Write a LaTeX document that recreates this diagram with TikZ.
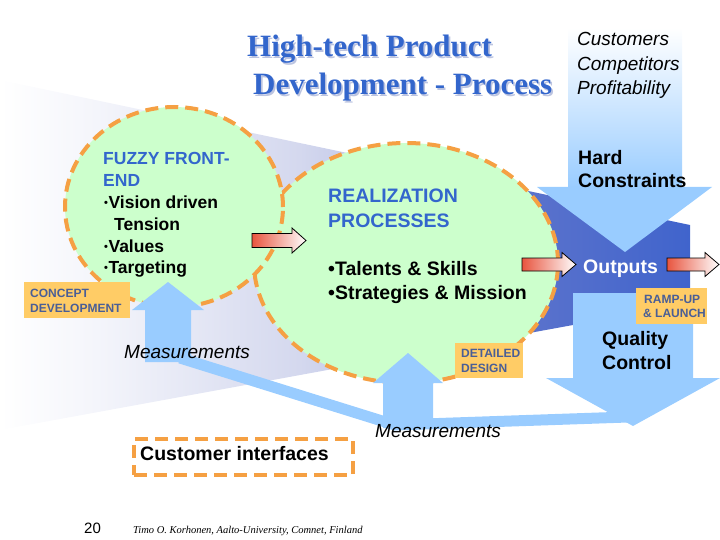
\documentclass[tikz,border=0pt]{standalone}
\usepackage{fontspec}
\setmainfont{Liberation Sans}
\newfontfamily\titlef{Liberation Serif}
\usetikzlibrary{shapes.geometric}
\definecolor{ltblue}{HTML}{99CCFF}
\definecolor{cgreen}{HTML}{CCFFCC}
\definecolor{orng}{HTML}{F5A043}
\definecolor{lblfill}{HTML}{FFCC66}
\definecolor{lbltxt}{HTML}{4A5E96}
\definecolor{tblue}{HTML}{3366CC}
\definecolor{tshadow}{HTML}{BCC4E0}
\definecolor{redA}{HTML}{E8553F}
\definecolor{fA}{HTML}{F4F5FB}
\definecolor{fB}{HTML}{D4D8EE}
\definecolor{fC}{HTML}{A6B0E0}
\definecolor{fD}{HTML}{5A72CC}
\definecolor{fE}{HTML}{4064CC}
\pgfdeclarehorizontalshading{funnelshade}{100bp}{color(0bp)=(white); color(25bp)=(white); color(32bp)=(fA); color(46.7bp)=(fB); color(59bp)=(fC); color(63.4bp)=(fD); color(75bp)=(fE); color(100bp)=(fE)}
\newcommand\sbul{\raisebox{1.5pt}{\fontsize{11}{11}\selectfont •}\hspace{0.5pt}}
\newcommand\shadowed[1]{\rlap{\hspace{1.6pt}\raisebox{-1.6pt}{\textcolor{tshadow}{#1}}}\textcolor{tblue}{#1}}
\begin{document}
\begin{tikzpicture}[x=1pt,y=-1pt,
  txt/.style={inner sep=0pt, anchor=base west},
  circ/.style={ellipse, inner sep=0pt, fill=cgreen, draw=orng, line width=4pt, dash pattern=on 13pt off 7pt},
  lblbox/.style={fill=lblfill, inner sep=0pt, anchor=north west},
  lbl/.style={txt, text=lbltxt, font=\fontsize{12}{14}\selectfont\bfseries},
  big/.style={txt, font=\fontsize{19.5}{23}\selectfont\bfseries},
  mid/.style={txt, font=\fontsize{17.5}{21}\selectfont\bfseries},
  ital/.style={txt, font=\fontsize{19}{23}\selectfont\itshape},
  redarr/.style={left color=redA, right color=white, draw=black, line width=0.8pt, line join=miter},
  ttl/.style={txt, font=\fontsize{31}{36}\selectfont\titlef\bfseries}
]
\useasboundingbox (0,0) rectangle (720,540);
% background funnel
\path[shading=funnelshade] (0,80) -- (690,225) -- (690,300) -- (573,325) -- (0,430) -- cycle;
% top arrow (constraints)
\path[top color=white, bottom color=ltblue] (568,28) rectangle (682,188);
\fill[ltblue] (537,187) -- (712,187) -- (625,252) -- cycle;
% quality control arrow
\fill[ltblue] (573,293) -- (693,293) -- (693,378) -- (720,378) -- (633,426) -- (546,378) -- (573,378) -- cycle;
% measurement band
\draw[ltblue, line width=11pt, line join=miter] (180,358) -- (395,425) -- (628,417);
% circles
\node[circ, minimum width=304pt, minimum height=240pt] (real) at (406,263) {};
\node[circ, minimum width=218pt, minimum height=200pt] (fuzzy) at (174,207) {};
% measurement arrows
\fill[ltblue] (145,362) -- (145,310) -- (132,310) -- (168,282) -- (204,310) -- (191,310) -- (191,362) -- cycle;
\fill[ltblue] (383,428) -- (383,383) -- (373,383) -- (408,353) -- (443,383) -- (433,383) -- (433,428) -- cycle;
% red arrows
\path[redarr] (252,233.5) -- (292,233.5) -- (292,228) -- (306,240.5) -- (292,253) -- (292,247.5) -- (252,247.5) -- cycle;
\path[redarr] (522,258) -- (562,258) -- (562,252.5) -- (576,264.5) -- (562,276.5) -- (562,271) -- (522,271) -- cycle;
\path[redarr] (667,258) -- (705,258) -- (705,252.5) -- (719,264.5) -- (705,276.5) -- (705,271) -- (667,271) -- cycle;
% label boxes
\node[lblbox, minimum width=106pt, minimum height=36pt] (conbox) at (24,282) {};
\node[lblbox, minimum width=71pt, minimum height=36pt] (rampbox) at (636,288) {};
\node[lblbox, minimum width=68pt, minimum height=35pt] (detbox) at (455,343) {};
\node[lbl] (con1) at (30,297) {CONCEPT};
\node[lbl] (con2) at (30,312) {DEVELOPMENT};
\node[lbl] (ramp1) at (644,303) {RAMP-UP};
\node[lbl] (ramp2) at (643,317) {\& LAUNCH};
\node[lbl] (det1) at (461,357) {DETAILED};
\node[lbl] (det2) at (461,372) {DESIGN};
% customer interfaces
\node[draw=orng, line width=4pt, dash pattern=on 13pt off 7pt, inner sep=0pt, minimum width=219pt, minimum height=36pt, anchor=north west] (cibox) at (132,437) {};
\node[big] (ci) at (140,460) {Customer interfaces};
% title
\node[ttl] (t1) at (247,57) {\shadowed{High-tech Product}};
\node[ttl] (t2) at (253,95) {\shadowed{Development - Process}};
% customers
\node[ital] (cu1) at (577,46) {Customers};
\node[ital] (cu2) at (577,71) {Competitors};
\node[ital] (cu3) at (577,95) {Profitability};
% hard constraints
\node[big] (hc1) at (578,165) {Hard};
\node[big] (hc2) at (578,188) {Constraints};
\node[big, text=white] (out) at (583,273) {Outputs};
\node[big] (qc1) at (602,345) {Quality};
\node[big] (qc2) at (602,369) {Control};
% fuzzy text
\node[mid, text=tblue] (f1) at (103,165) {FUZZY FRONT-};
\node[mid, text=tblue] (f2) at (103,187) {END};
\node[mid] (f3) at (104,208) {\sbul Vision driven};
\node[mid] (f4) at (114,230) {Tension};
\node[mid] (f5) at (104,252) {\sbul Values};
\node[mid] (f6) at (104,273) {\sbul Targeting};
% realization text
\node[big, text=tblue] (r1) at (328,203) {REALIZATION};
\node[big, text=tblue] (r2) at (328,227) {PROCESSES};
\node[big] (r3) at (328,275) {•Talents \& Skills};
\node[big] (r4) at (328,299) {•Strategies \& Mission};
% measurements
\node[ital] (m1) at (124,358) {Measurements};
\node[ital] (m2) at (375,437) {Measurements};
% footer
\node[txt, font=\fontsize{15}{15}\selectfont] (pg) at (84,533) {20};
\node[txt, font=\fontsize{10.5}{12}\selectfont\titlef\itshape] (ft) at (133,533) {Timo O. Korhonen, Aalto-University, Comnet, Finland};
\end{tikzpicture}
\end{document}
